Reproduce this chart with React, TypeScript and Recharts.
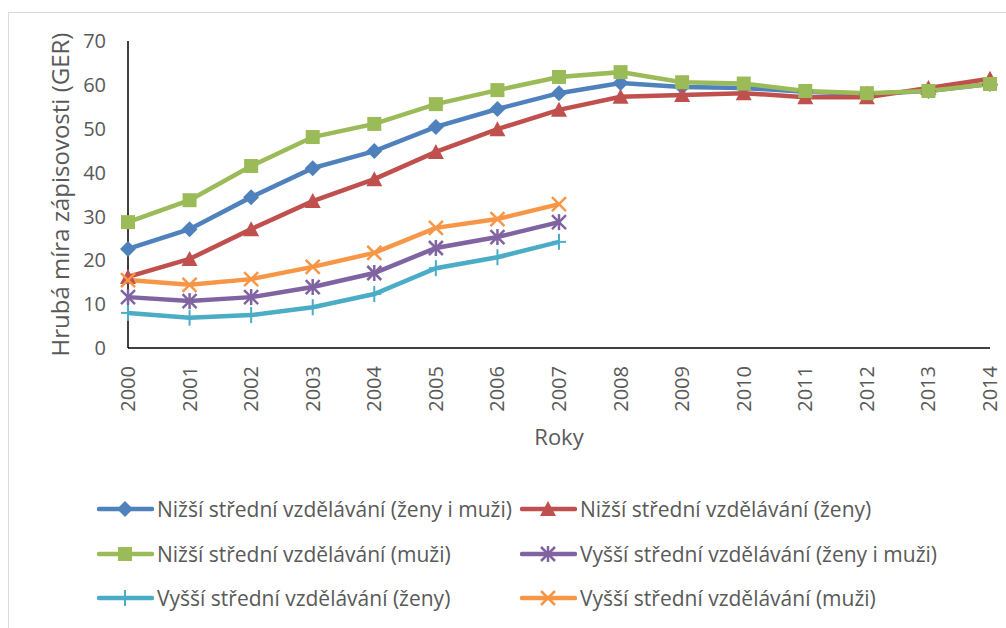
import { LineChart, Line, XAxis, YAxis } from 'recharts';

const years = ['2000', '2001', '2002', '2003', '2004', '2005', '2006', '2007', '2008', '2009', '2010', '2011', '2012', '2013', '2014'];

// Nižší střední vzdělávání
const nizsiCelkem = [22.6, 27.1, 34.4, 41.0, 44.9, 50.4, 54.5, 58.1, 60.4, 59.5, 59.3, 58.4, 57.9, 58.6, 60.2];
const nizsiZeny = [16.2, 20.3, 27.1, 33.5, 38.5, 44.7, 49.9, 54.3, 57.3, 57.7, 58.1, 57.2, 57.2, 59.3, 61.4];
const nizsiMuzi = [28.7, 33.7, 41.5, 48.1, 51.1, 55.6, 58.8, 61.8, 62.9, 60.6, 60.3, 58.6, 58.1, 58.6, 60.2];

// Vyšší střední vzdělávání (data jen do roku 2007)
const vyssiCelkem = [11.6, 10.7, 11.6, 13.9, 17.1, 22.8, 25.3, 28.7];
const vyssiZeny = [8.0, 6.9, 7.5, 9.3, 12.3, 18.2, 20.7, 24.2];
const vyssiMuzi = [15.5, 14.4, 15.7, 18.5, 21.7, 27.4, 29.4, 32.8];

const yTicks = [0, 10, 20, 30, 40, 50, 60, 70];

const FONT = '"Open Sans", "Noto Sans", sans-serif';
const TEXT = '#595959';

type Marker = 'diamond' | 'triangle' | 'square' | 'star' | 'plus' | 'cross';

const series: { key: string; name: string; color: string; marker: Marker; values: number[] }[] = [
  { key: 'nc', name: 'Nižší střední vzdělávání (ženy i muži)', color: '#4F81BD', marker: 'diamond', values: nizsiCelkem },
  { key: 'nz', name: 'Nižší střední vzdělávání (ženy)', color: '#C0504D', marker: 'triangle', values: nizsiZeny },
  { key: 'nm', name: 'Nižší střední vzdělávání (muži)', color: '#9BBB59', marker: 'square', values: nizsiMuzi },
  { key: 'vc', name: 'Vyšší střední vzdělávání (ženy i muži)', color: '#8064A2', marker: 'star', values: vyssiCelkem },
  { key: 'vz', name: 'Vyšší střední vzdělávání (ženy)', color: '#4BACC6', marker: 'plus', values: vyssiZeny },
  { key: 'vm', name: 'Vyšší střední vzdělávání (muži)', color: '#F79646', marker: 'cross', values: vyssiMuzi },
];

const data = years.map((year, i) => {
  const row: Record<string, string | number | null> = { year };
  series.forEach((s) => {
    row[s.key] = i < s.values.length ? s.values[i] : null;
  });
  return row;
});

function MarkerShape({ kind, cx, cy, color }: { kind: Marker; cx: number; cy: number; color: string }) {
  const r = 7;
  switch (kind) {
    case 'diamond':
      return <polygon points={`${cx},${cy - r - 1} ${cx + r + 1},${cy} ${cx},${cy + r + 1} ${cx - r - 1},${cy}`} fill={color} />;
    case 'triangle':
      return <polygon points={`${cx},${cy - r - 1} ${cx + r + 1},${cy + r} ${cx - r - 1},${cy + r}`} fill={color} />;
    case 'square':
      return <rect x={cx - r} y={cy - r} width={2 * r} height={2 * r} fill={color} />;
    case 'star':
      return (
        <g stroke={color} strokeWidth={2.5}>
          <line x1={cx - r} y1={cy - r} x2={cx + r} y2={cy + r} />
          <line x1={cx - r} y1={cy + r} x2={cx + r} y2={cy - r} />
          <line x1={cx} y1={cy - r - 1} x2={cx} y2={cy + r + 1} />
        </g>
      );
    case 'plus':
      return (
        <g stroke={color} strokeWidth={2}>
          <line x1={cx} y1={cy - r - 1} x2={cx} y2={cy + r + 1} />
          <line x1={cx - r} y1={cy} x2={cx + r} y2={cy} />
        </g>
      );
    case 'cross':
      return (
        <g stroke={color} strokeWidth={2.5}>
          <line x1={cx - r} y1={cy - r} x2={cx + r} y2={cy + r} />
          <line x1={cx - r} y1={cy + r} x2={cx + r} y2={cy - r} />
        </g>
      );
  }
}

function makeDot(kind: Marker, color: string) {
  return (props: any) => {
    const { cx, cy, value, index } = props;
    if (value == null || cx == null || cy == null) return <g key={index} />;
    return <MarkerShape key={index} kind={kind} cx={cx} cy={cy} color={color} />;
  };
}

function YearTick({ x, y, payload }: any) {
  return (
    <text
      x={x - 18}
      y={y + 7}
      transform={`rotate(-90 ${x} ${y})`}
      textAnchor="end"
      fontSize={20}
      fontFamily={FONT}
      fill={TEXT}
    >
      {payload.value}
    </text>
  );
}

const legendCols = [97, 520];
const legendRows = [509, 554, 598];

export default function App() {
  return (
    <div style={{ position: 'absolute', left: 0, top: 0, width: 1006, height: 628, overflow: 'hidden', background: '#fff' }}>
      <div style={{ position: 'absolute', left: 8, top: 12, width: 1010, height: 640, border: '1px solid #d9d9d9' }} />
      <div style={{ position: 'absolute', left: 0, top: 0 }}>
        <LineChart width={1006} height={628} data={data} margin={{ top: 41, right: 16, left: 0, bottom: 0 }}>
          <XAxis
            dataKey="year"
            height={280}
            tick={<YearTick />}
            tickLine={false}
            tickSize={0}
            tickMargin={0}
            interval={0}
            axisLine={{ stroke: '#000', strokeWidth: 1.5 }}
            label={{ value: 'Roky', position: 'insideTop', offset: 81, fontSize: 22, fontFamily: FONT, fill: TEXT }}
          />
          <YAxis
            width={128}
            domain={[0, 70]}
            ticks={yTicks}
            tickLine={false}
            tickSize={0}
            tickMargin={22}
            axisLine={{ stroke: '#000', strokeWidth: 1.5 }}
            tick={{ fontSize: 20, fontFamily: FONT, fill: TEXT }}
            label={{
              value: 'Hrubá míra zápisovosti (GER)',
              angle: -90,
              position: 'insideLeft',
              offset: 60,
              fontSize: 24,
              fontFamily: FONT,
              fill: TEXT,
              style: { textAnchor: 'middle' },
            }}
          />
          {series.map((s) => (
            <Line
              key={s.key}
              dataKey={s.key}
              name={s.name}
              type="linear"
              stroke={s.color}
              strokeWidth={4.5}
              dot={makeDot(s.marker, s.color)}
              activeDot={false}
              isAnimationActive={false}
            />
          ))}
        </LineChart>
      </div>
      {series.map((s, i) => {
        const left = legendCols[i % 2];
        const cy = legendRows[Math.floor(i / 2)];
        return (
          <div key={s.key} style={{ position: 'absolute', left, top: cy - 15, height: 30, display: 'flex', alignItems: 'center' }}>
            <svg width={57} height={30} style={{ display: 'block' }}>
              <line x1={2} y1={15} x2={55} y2={15} stroke={s.color} strokeWidth={4.5} strokeLinecap="round" />
              <MarkerShape kind={s.marker} cx={28} cy={15} color={s.color} />
            </svg>
            <span style={{ marginLeft: 3, fontFamily: FONT, fontSize: 21, color: TEXT, whiteSpace: 'nowrap' }}>{s.name}</span>
          </div>
        );
      })}
    </div>
  );
}
